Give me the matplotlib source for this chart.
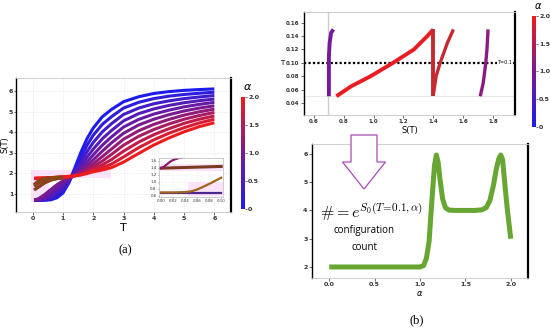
import matplotlib
matplotlib.use('Agg')
import matplotlib.pyplot as plt
from matplotlib.colors import LinearSegmentedColormap, Normalize
from matplotlib.cm import ScalarMappable
from matplotlib.patches import FancyArrow, Rectangle

# ---- panel (a): S(T) for alpha = 0 ... 2 ----
alphas = [0.0, 0.2, 0.4, 0.6, 0.8, 1.0, 1.2, 1.4, 1.6, 1.8, 2.0]
T_grid = [0.05, 0.2, 0.4, 0.6, 0.8, 1.0, 1.2, 1.4, 1.6, 1.8, 2.0, 2.3, 2.6, 3.0, 3.5, 4.0, 4.5, 5.0, 5.5, 6.0]
S_a00 = [0.70, 0.70, 0.70, 0.72, 0.82, 1.05, 1.55, 2.30, 3.05, 3.70, 4.20, 4.75, 5.10, 5.48, 5.72, 5.88, 5.97, 6.03, 6.07, 6.10]
S_a02 = [0.70, 0.70, 0.71, 0.76, 0.92, 1.15, 1.60, 2.18, 2.80, 3.38, 3.85, 4.38, 4.75, 5.17, 5.45, 5.63, 5.75, 5.83, 5.89, 5.94]
S_a04 = [0.70, 0.70, 0.73, 0.82, 1.02, 1.25, 1.65, 2.08, 2.57, 3.07, 3.50, 4.02, 4.41, 4.86, 5.17, 5.38, 5.52, 5.63, 5.71, 5.78]
S_a06 = [0.70, 0.71, 0.77, 0.92, 1.15, 1.38, 1.70, 2.01, 2.38, 2.80, 3.18, 3.68, 4.08, 4.55, 4.90, 5.13, 5.30, 5.43, 5.53, 5.61]
S_a08 = [0.70, 0.73, 0.85, 1.05, 1.30, 1.52, 1.74, 1.96, 2.23, 2.57, 2.90, 3.37, 3.77, 4.25, 4.62, 4.88, 5.07, 5.23, 5.35, 5.45]
S_a10 = [0.70, 0.78, 0.98, 1.22, 1.45, 1.64, 1.77, 1.93, 2.12, 2.39, 2.66, 3.08, 3.48, 3.95, 4.35, 4.63, 4.85, 5.03, 5.17, 5.28]
S_a12 = [1.20, 1.35, 1.55, 1.68, 1.75, 1.78, 1.80, 1.91, 2.04, 2.25, 2.47, 2.82, 3.18, 3.66, 4.07, 4.38, 4.62, 4.83, 4.99, 5.12]
S_a14 = [1.39, 1.55, 1.70, 1.76, 1.79, 1.80, 1.82, 1.90, 1.99, 2.15, 2.33, 2.60, 2.92, 3.37, 3.80, 4.13, 4.40, 4.63, 4.81, 4.96]
S_a16 = [1.45, 1.65, 1.76, 1.79, 1.81, 1.82, 1.84, 1.89, 1.96, 2.08, 2.22, 2.42, 2.67, 3.08, 3.52, 3.88, 4.17, 4.43, 4.63, 4.79]
S_a18 = [1.75, 1.77, 1.78, 1.79, 1.81, 1.83, 1.85, 1.89, 1.94, 2.03, 2.14, 2.28, 2.45, 2.80, 3.25, 3.63, 3.95, 4.22, 4.45, 4.63]
S_a20 = [1.78, 1.78, 1.79, 1.80, 1.82, 1.84, 1.86, 1.89, 1.93, 2.00, 2.08, 2.17, 2.28, 2.55, 2.97, 3.38, 3.72, 4.02, 4.27, 4.46]
S_curves = [S_a00, S_a02, S_a04, S_a06, S_a08, S_a10, S_a12, S_a14, S_a16, S_a18, S_a20]
brown_alphas = [1.2, 1.4, 1.6]   # low-T part drawn brownish in the original

# inset of (a): T in [0, 0.1]
inset_T1 = [0.0, 0.005, 0.01, 0.015, 0.02, 0.03, 0.04, 0.06, 0.08, 0.10]
inset_S1 = [1.39, 1.43, 1.50, 1.57, 1.62, 1.68, 1.71, 1.74, 1.75, 1.75]
inset_T2 = [0.0, 0.02, 0.04, 0.06, 0.08, 0.10]
inset_S2 = [1.39, 1.40, 1.41, 1.42, 1.43, 1.44]
inset_T3 = [0.0, 0.02, 0.04, 0.05, 0.06, 0.07, 0.08, 0.09, 0.10]
inset_S3 = [0.70, 0.70, 0.71, 0.73, 0.78, 0.86, 0.94, 1.03, 1.12]
inset_T4 = [0.0, 0.10]
inset_S4 = [0.69, 0.69]

# ---- panel (b) top: T vs S(T) near T = 0.1 ----
b1_S = [0.70, 0.70, 0.70, 0.705, 0.715, 0.73]
b1_T = [0.05, 0.08, 0.11, 0.13, 0.145, 0.15]
b2_S = [0.75, 0.85, 0.98, 1.13, 1.27, 1.36, 1.40]
b2_T = [0.05, 0.065, 0.08, 0.10, 0.12, 0.14, 0.15]
b3_S = [1.395, 1.395]
b3_T = [0.05, 0.15]
b4_S = [1.40, 1.419, 1.446, 1.495, 1.535]
b4_T = [0.052, 0.08, 0.10, 0.13, 0.15]
b5_S = [1.715, 1.735, 1.752, 1.760, 1.765, 1.767]
b5_T = [0.05, 0.07, 0.10, 0.12, 0.14, 0.15]

# ---- panel (b) bottom: configuration count vs alpha ----
count_alpha = [0.0, 0.5, 1.0, 1.04, 1.07, 1.10, 1.13, 1.16, 1.18, 1.20, 1.22, 1.25, 1.28, 1.32,
               1.4, 1.5, 1.6, 1.68, 1.73, 1.77, 1.81, 1.84, 1.87, 1.89, 1.91, 1.93, 1.96, 2.0]
count_vals = [2.0, 2.0, 2.0, 2.05, 2.3, 2.9, 4.3, 5.6, 5.96, 5.7, 5.1, 4.4, 4.1, 4.01,
              4.0, 4.0, 4.0, 4.02, 4.1, 4.35, 4.9, 5.45, 5.85, 5.96, 5.8, 5.1, 4.1, 3.0]

W, H = 550, 330
cmap = LinearSegmentedColormap.from_list('br', ['#1c1cf0', '#7a1a92', '#ee1c1c'])
norm = Normalize(0, 2)


def px_box(x0, y0, x1, y1):
    return [x0 / W, 1 - y1 / H, (x1 - x0) / W, (y1 - y0) / H]


def frame(ax, size=4.5):
    for s in ['top', 'bottom']:
        ax.spines[s].set_color('#c8c8c8')
        ax.spines[s].set_linewidth(0.6)
    ax.spines['left'].set_color('black')
    ax.spines['left'].set_linewidth(1.0)
    ax.spines['right'].set_color('black')
    ax.spines['right'].set_linewidth(1.6)
    ax.tick_params(labelsize=size, length=2, width=0.5, pad=1.2, colors='#333333')
    for lab in ax.get_xticklabels() + ax.get_yticklabels():
        lab.set_fontweight('bold')


def colorbar(cax):
    cb = fig.colorbar(ScalarMappable(norm=norm, cmap=cmap), cax=cax)
    cb.outline.set_visible(False)
    cb.set_ticks([0, 0.5, 1.0, 1.5, 2.0])
    cb.set_ticklabels(['0', '0.5', '1.0', '1.5', '2.0'])
    cax.tick_params(labelsize=4.5, length=1.2, width=0.5, pad=1.0, colors='#333333')
    for lab in cax.get_yticklabels():
        lab.set_fontweight('bold')
    return cb


fig = plt.figure(figsize=(W / 100, H / 100), dpi=100)

# ---------------- panel (a) ----------------
ax = fig.add_axes(px_box(16, 78, 231, 212))
ax.add_patch(Rectangle((-0.05, 1.8), 2.65, 0.35, color='#fde2fb', lw=0, zorder=0))
ax.add_patch(Rectangle((-0.05, 0.6), 0.6, 1.2, color='#fde2fb', lw=0, zorder=0))
for a, S in zip(alphas, S_curves):
    ax.plot(T_grid, S, color=cmap(norm(a)), lw=2.2, solid_capstyle='butt', zorder=2)
for a, S in zip(alphas, S_curves):
    if a in brown_alphas:
        ax.plot(T_grid[:6], S[:6], color='#8a4418', lw=2.2, solid_capstyle='butt', zorder=3)
ax.set_xlim(-0.55, 6.55)
ax.set_ylim(0.13, 6.63)
ax.set_xticks(range(0, 7))
ax.set_yticks(range(1, 7))
ax.grid(True, color='#dddddd', lw=0.5, ls=':')
frame(ax)
ax.tick_params(axis='y', pad=0.5, length=1.5)
ax.set_xlabel('T', fontsize=8, labelpad=1)
ax.set_ylabel('S(T)', fontsize=6)
ax.yaxis.set_label_coords(-0.032, 0.5)

# inset
axi = fig.add_axes(px_box(159, 158, 223, 197))
axi.add_patch(Rectangle((-0.005, 1.32), 0.11, 0.2, color='#fde2fb', lw=0, zorder=0))
axi.add_patch(Rectangle((0.045, 0.6), 0.06, 0.4, color='#fde2fb', lw=0, zorder=0))
axi.plot(inset_T4, inset_S4, color='#4b2a90', lw=1.6)
axi.plot(inset_T3, inset_S3, color='#a0641c', lw=1.6)
axi.plot(inset_T2, inset_S2, color='#7a3a20', lw=2.2)
axi.plot(inset_T1, inset_S1, color='#8c1a6e', lw=1.6)
axi.set_xlim(-0.003, 0.103)
axi.set_ylim(0.57, 1.68)
axi.set_xticks([0.0, 0.02, 0.04, 0.06, 0.08, 0.10])
axi.set_xticklabels(['0.00', '0.02', '0.04', '0.06', '0.08', '0.10'])
axi.set_yticks([0.6, 0.8, 1.0, 1.2, 1.4, 1.6])
axi.set_yticklabels(['0.6', '0.8', '1.0', '1.2', '1.4', '1.6'])
for s in axi.spines.values():
    s.set_color('#bbbbbb')
    s.set_linewidth(0.5)
axi.tick_params(labelsize=2.8, length=1, width=0.4, pad=0.8, colors='#333333')
axi.grid(True, color='#e6e6e6', lw=0.4, ls=':')

cax_a = fig.add_axes(px_box(241, 97, 245, 209))
colorbar(cax_a)
fig.text(248 / W, 1 - 87 / H, r'$\alpha$', fontsize=8, ha='center', va='center')
fig.text(125 / W, 1 - 250 / H, '(a)', fontsize=9, family='Liberation Serif',
         ha='center', va='center')

# ---------------- panel (b) top ----------------
axb = fig.add_axes(px_box(304, 12, 515, 115))
axb.axvline(0.693, color='#cccccc', lw=1.0, zorder=0)
axb.axhline(0.05, color='#e4e4e4', lw=0.6, zorder=0)
axb.axhline(0.10, color='black', lw=1.6, ls=(0, (1, 1)), zorder=1)
axb.plot(b1_S, b1_T, color=cmap(norm(0.95)), lw=2.8, solid_capstyle='butt')
axb.plot(b2_S, b2_T, color=cmap(norm(1.95)), lw=2.8, solid_capstyle='butt')
axb.plot(b3_S, b3_T, color='#c42a30', lw=2.8, solid_capstyle='butt')
axb.plot(b4_S, b4_T, color='#c42a30', lw=2.4, solid_capstyle='butt')
axb.plot(b5_S, b5_T, color=cmap(norm(1.15)), lw=2.4, solid_capstyle='butt')
axb.text(1.88, 0.10, 'T=0.1', fontsize=3.5, ha='center', va='center',
         bbox=dict(fc='white', ec='none', pad=0.3))
axb.set_xlim(0.533, 1.948)
axb.set_ylim(0.022, 0.176)
axb.set_xticks([0.6, 0.8, 1.0, 1.2, 1.4, 1.6, 1.8])
axb.set_xticklabels(['0.6', '0.8', '1.0', '1.2', '1.4', '1.6', '1.8'])
axb.set_yticks([0.04, 0.06, 0.08, 0.10, 0.12, 0.14, 0.16])
axb.set_yticklabels(['0.04', '0.06', '0.08', '0.10', '0.12', '0.14', '0.16'])
frame(axb, size=4)
axb.set_xlabel('S(T)', fontsize=6, labelpad=1)
axb.set_ylabel('T', fontsize=5, rotation=0, va='center')
axb.yaxis.set_label_coords(-0.105, 0.506)

cax_b = fig.add_axes(px_box(532, 16, 536, 127))
colorbar(cax_b)
fig.text(538 / W, 1 - 6 / H, r'$\alpha$', fontsize=7, ha='center', va='center')

# ---------------- panel (b) bottom ----------------
axc = fig.add_axes(px_box(312, 144, 528, 278))
axc.plot(count_alpha, count_vals, color='#67a632', lw=3.6, solid_capstyle='butt')
axc.set_xlim(-0.19, 2.19)
axc.set_ylim(1.61, 6.35)
axc.set_xticks([0.0, 0.5, 1.0, 1.5, 2.0])
axc.set_xticklabels(['0.0', '0.5', '1.0', '1.5', '2.0'])
axc.set_yticks([2, 3, 4, 5, 6])
frame(axc)
axc.set_xlabel(r'$\alpha$', fontsize=6, labelpad=1)

arrow = FancyArrow(364 / W, 1 - 135 / H, 0, -54 / H, width=26 / W, head_width=43 / W,
                   head_length=27 / H, length_includes_head=True, transform=fig.transFigure,
                   fc='white', ec='#a64bb5', lw=0.9, zorder=5)
fig.patches.append(arrow)

fig.text(372 / W, 1 - 212 / H, r'$\# = e^{S_0(T\!=\!0.1,\alpha)}$', fontsize=11.5,
         ha='center', va='center', math_fontfamily='cm')
fig.text(364 / W, 1 - 231 / H, 'configuration', fontsize=7, family='Open Sans',
         ha='center', va='center')
fig.text(364 / W, 1 - 247 / H, 'count', fontsize=7, family='Open Sans',
         ha='center', va='center')
fig.text(417 / W, 1 - 320 / H, '(b)', fontsize=9, family='Liberation Serif',
         ha='center', va='center')

fig.savefig('out.png', dpi=100)
